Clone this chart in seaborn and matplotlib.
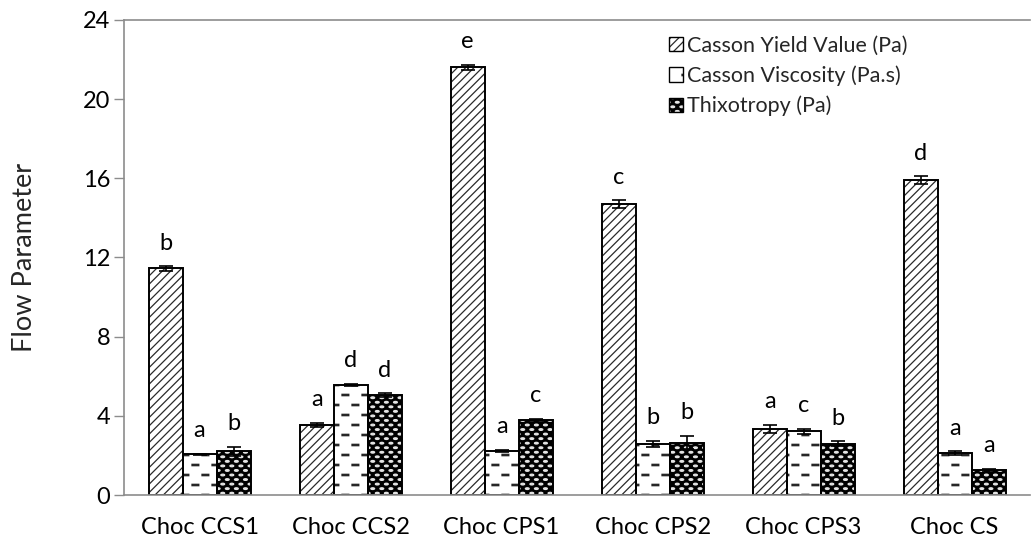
import numpy as np
import pandas as pd
import matplotlib
matplotlib.use("Agg")
import matplotlib.pyplot as plt
import matplotlib.hatch as mhatch
from matplotlib.path import Path
from matplotlib.patches import Patch
from matplotlib.legend_handler import HandlerTuple
import seaborn as sns


# ---- custom hatch fills -------------------------------------------------
class DashRows(mhatch.HatchPatternBase):
    """Staggered short horizontal dashes, drawn as thin filled slivers."""

    def __init__(self, hatch, density):
        n = hatch.count('-')
        self.rows = 10 * n
        self.per_row = 5
        self.num_vertices = self.rows * self.per_row * 5

    def set_vertices_and_codes(self, vertices, codes):
        length, thick = 0.068, 0.007
        period = 1.0 / self.per_row
        k = 0
        for i in range(self.rows):
            y = (i + 0.5) / self.rows
            shift = period / 2 if i % 2 else 0.0
            for j in range(self.per_row):
                x0 = j * period + shift + 0.02
                x1 = x0 + length
                vertices[k:k + 5] = [(x0, y - thick), (x1, y - thick),
                                     (x1, y + thick), (x0, y + thick),
                                     (x0, y - thick)]
                codes[k:k + 5] = [Path.MOVETO, Path.LINETO, Path.LINETO,
                                  Path.LINETO, Path.CLOSEPOLY]
                k += 5


class StaggeredOvals(mhatch.HatchPatternBase):
    """Small flat ovals on a staggered grid (rows twice as dense as columns)."""

    def __init__(self, hatch, density):
        n = hatch.count('.')
        self.rows = 22 * n
        self.cols = 11 * n
        circle = Path.unit_circle()
        self.shape_vertices = circle.vertices
        self.shape_codes = circle.codes
        self.num_vertices = self.rows * (self.cols + 1) * len(circle.vertices)

    def set_vertices_and_codes(self, vertices, codes):
        rx, ry = 0.019, 0.0085
        shape = self.shape_vertices * [rx, ry]
        n = len(shape)
        k = 0
        for i in range(self.rows):
            y = (i + 0.5) / self.rows
            shift = 0.5 / self.cols if i % 2 else 0.0
            for j in range(self.cols + 1):
                x = j / self.cols + shift
                vertices[k:k + n] = shape + [x, y]
                codes[k:k + n] = self.shape_codes
                k += n


mhatch._hatch_types = [
    DashRows if t is mhatch.HorizontalHatch else
    StaggeredOvals if t is mhatch.SmallFilledCircles else t
    for t in mhatch._hatch_types
]

# ---- data ----------------------------------------------------------------
samples = ["Choc CCS1", "Choc CCS2", "Choc CPS1", "Choc CPS2", "Choc CPS3", "Choc CS"]
parameters = ["Casson Yield Value (Pa)", "Casson Viscosity (Pa.s)", "Thixotropy (Pa)"]

yield_value = [11.45, 3.55, 21.6, 14.7, 3.35, 15.9]
viscosity = [2.05, 5.57, 2.23, 2.58, 3.22, 2.1]
thixotropy = [2.2, 5.05, 3.8, 2.65, 2.6, 1.25]

yield_sd = [0.12, 0.1, 0.15, 0.2, 0.2, 0.2]
viscosity_sd = [0.04, 0.05, 0.06, 0.15, 0.12, 0.1]
thixotropy_sd = [0.25, 0.08, 0.06, 0.35, 0.12, 0.08]

yield_letters = ["b", "a", "e", "c", "a", "d"]
viscosity_letters = ["a", "d", "a", "b", "c", "a"]
thixotropy_letters = ["b", "d", "c", "b", "b", "a"]

y_ticks = [0, 4, 8, 12, 16, 20, 24]

values = [yield_value, viscosity, thixotropy]
errors = [yield_sd, viscosity_sd, thixotropy_sd]
letters = [yield_letters, viscosity_letters, thixotropy_letters]

df = pd.DataFrame({
    "sample": np.tile(samples, len(parameters)),
    "parameter": np.repeat(parameters, len(samples)),
    "value": np.concatenate(values),
})

# ---- styling -------------------------------------------------------------
sns.set_theme(style="white")
plt.rcParams["font.family"] = ["Lato", "DejaVu Sans"]
plt.rcParams["hatch.linewidth"] = 0.9

axis_grey = "#8c8c8c"
face_colors = ["white", "white", "black"]
hatch_colors = ["#2a2a2a", "#222222", "#e4e4e4"]
hatches = ["////", "-", "."]
font_main = 17

fig = plt.figure(figsize=(10.32, 5.46), dpi=100)
ax = fig.add_axes([0.1202, 0.0934, 0.878, 0.87])

# hatched fills
sns.barplot(data=df, x="sample", y="value", hue="parameter", order=samples,
            hue_order=parameters, palette=face_colors, width=0.675,
            errorbar=None, saturation=1, linewidth=0, legend=False, ax=ax)
for cont, hc, h in zip(ax.containers, hatch_colors, hatches):
    for bar in cont:
        bar.set_hatch(h)
        bar.set_edgecolor(hc)
        bar.set_linewidth(0)

n_fill = len(ax.containers)

# black outlines on top
sns.barplot(data=df, x="sample", y="value", hue="parameter", order=samples,
            hue_order=parameters, palette=["black"] * 3, width=0.675,
            errorbar=None, fill=False, linewidth=1.4, legend=False, ax=ax)

# error bars and significance letters
for cont, val, err, let in zip(ax.containers[:n_fill], values, errors, letters):
    xs = [b.get_x() + b.get_width() / 2 for b in cont]
    ax.errorbar(xs, val, yerr=err, fmt="none", ecolor="black",
                elinewidth=1.2, capsize=5, capthick=1.2, zorder=5)
    for x, v, e, t in zip(xs, val, err, let):
        ax.annotate(t, (x, v + e), xytext=(0, 9), textcoords="offset points",
                    ha="center", va="bottom", fontsize=font_main, color="black")

# axes
ax.set_xlim(-0.5, len(samples) - 0.5)
ax.set_ylim(0, 24)
ax.set_yticks(y_ticks)
ax.set_yticklabels([str(t) for t in y_ticks])
ax.set_xlabel("")
ax.set_ylabel("Flow Parameter", fontsize=19.5, labelpad=33)
ax.tick_params(axis="y", which="both", left=True, length=7, width=1,
               color=axis_grey, labelsize=font_main, pad=3, labelcolor="black")
ax.tick_params(axis="x", bottom=False, labelsize=font_main, pad=10, labelcolor="black")
for side in ["left", "bottom", "top"]:
    ax.spines[side].set_visible(True)
    ax.spines[side].set_color(axis_grey)
    ax.spines[side].set_linewidth(1.2)
ax.spines["right"].set_visible(False)
ax.grid(False)

# legend
handles = []
for fc, hc, h in zip(face_colors, hatch_colors, hatches):
    fill = Patch(facecolor=fc, edgecolor=hc, hatch=h, linewidth=0)
    outline = Patch(facecolor="none", edgecolor="black", linewidth=1.0)
    handles.append((fill, outline))
ax.legend(handles, parameters, handler_map={tuple: HandlerTuple(ndivide=1)},
          loc="upper left", bbox_to_anchor=(0.592, 0.985), frameon=False,
          fontsize=15.5, handlelength=0.65, handleheight=0.65, handletextpad=0.2,
          labelspacing=0.45, borderaxespad=0)

fig.savefig("out.png", dpi=100)
